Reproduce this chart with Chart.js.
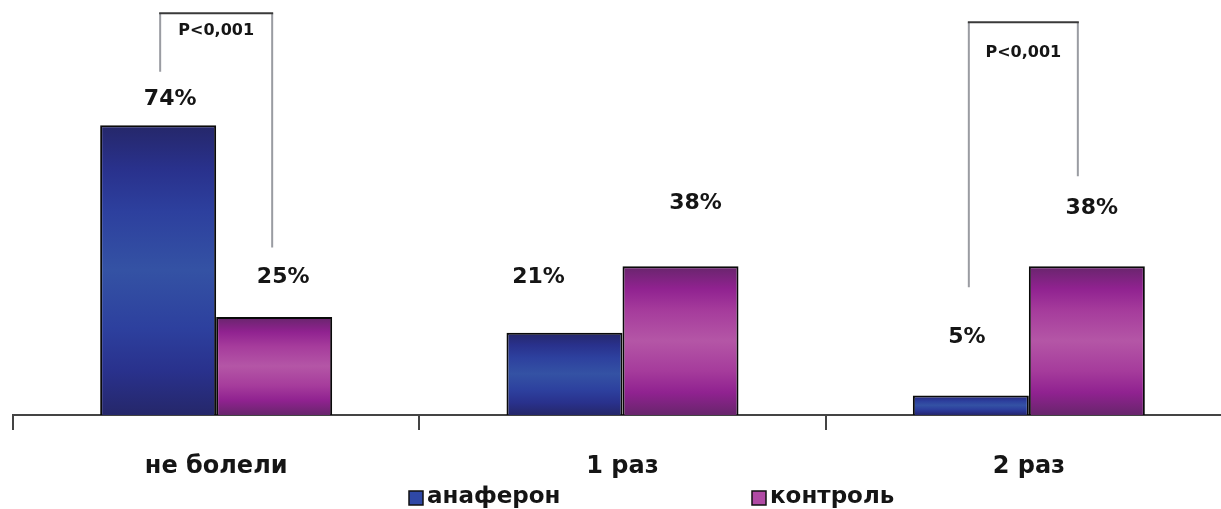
<!DOCTYPE html>
<html>
<head>
<meta charset="utf-8">
<script src="https://cdn.jsdelivr.net/npm/chart.js@4"></script>
<style>
  body { margin: 0; overflow: hidden; background: #fff; }
  #wrap { width: 1232px; height: 509px; }
</style>
</head>
<body>
<div id="wrap"><canvas id="myChart"></canvas></div>
<script>
    let categories = ["не болели", "1 раз", "2 раз"];
    let seriesNames = ["анаферон", "контроль"];
    let anaferonValues = [74, 21, 5];
    let controlValues = [25, 38, 38];
    let pLabel = "P<0,001";

    let fontName = "'DejaVu Sans', sans-serif";

    // gradient stops top -> bottom for each series
    let blueStops = [
      [0, "#25276a"], [0.15, "#29318c"], [0.3, "#2d409e"],
      [0.5, "#3452a4"], [0.7, "#2d409e"], [0.85, "#29318c"], [1, "#25276a"]
    ];
    let pinkStops = [
      [0, "#68256c"], [0.15, "#902290"], [0.3, "#a63c9c"],
      [0.5, "#b456a6"], [0.7, "#a63c9c"], [0.85, "#902290"], [1, "#68256c"]
    ];

    function barGradient(stops, flat) {
      return function (ctx) {
        let chart = ctx.chart;
        let y = chart.scales.y;
        if (!y || ctx.raw === undefined) return flat;
        let top = y.getPixelForValue(ctx.raw);
        let base = y.getPixelForValue(0);
        if (!isFinite(top) || base - top < 1) return flat;
        let g = chart.ctx.createLinearGradient(0, top, 0, base);
        stops.forEach(s => g.addColorStop(s[0], s[1]));
        return g;
      };
    }

    // label offsets (px) from bar centre / bar top, per dataset per bar
    let labelOffsets = [
      [[12, -26], [-26, -56], [-4, -58]],
      [[9, -40], [15, -63], [5, -58]]
    ];

    let extras = {
      id: "extras",
      afterDatasetsDraw(chart) {
        let c = chart.ctx;
        let y = chart.scales.y;
        c.save();

        // value labels
        c.font = "bold 22px " + fontName;
        c.fillStyle = "#151515";
        c.textAlign = "center";
        c.textBaseline = "middle";
        chart.data.datasets.forEach((ds, di) => {
          chart.getDatasetMeta(di).data.forEach((bar, i) => {
            let off = labelOffsets[di][i];
            c.fillText(ds.data[i] + "%", bar.x + off[0], bar.y + off[1]);
          });
        });

        // significance brackets
        let brackets = [
          { group: 0, top: 102.6, leftEnd: 87.7, rightEnd: 42.8, textDy: 18, dx: [2, -2] },
          { group: 2, top: 100.3, leftEnd: 32.6, rightEnd: 61.0, textDy: 31, dx: [-2, -9] }
        ];
        brackets.forEach(b => {
          let x1 = chart.getDatasetMeta(0).data[b.group].x + b.dx[0];
          let x2 = chart.getDatasetMeta(1).data[b.group].x + b.dx[1];
          let yt = y.getPixelForValue(b.top);
          c.lineWidth = 2;
          c.strokeStyle = "#9a9ca2";
          c.beginPath();
          c.moveTo(x1, y.getPixelForValue(b.leftEnd));
          c.lineTo(x1, yt);
          c.moveTo(x2, yt);
          c.lineTo(x2, y.getPixelForValue(b.rightEnd));
          c.stroke();
          c.strokeStyle = "#3a3a3a";
          c.beginPath();
          c.moveTo(x1 - 1, yt);
          c.lineTo(x2 + 1, yt);
          c.stroke();
          c.font = "bold 16px " + fontName;
          c.fillStyle = "#151515";
          c.fillText(pLabel, (x1 + x2) / 2, yt + b.textDy);
        });

        // legend
        let legendItems = [
          { x: 409, color: "#2f48a6" },
          { x: 752, color: "#b04aa4" }
        ];
        c.font = "bold 23px " + fontName;
        c.textAlign = "left";
        legendItems.forEach((it, i) => {
          c.fillStyle = it.color;
          c.fillRect(it.x, 491, 14, 14);
          c.lineWidth = 1.5;
          c.strokeStyle = "#111";
          c.strokeRect(it.x, 491, 14, 14);
          c.fillStyle = "#151515";
          c.fillText(chart.data.datasets[i].label, it.x + 18, 497);
        });
        c.restore();
      }
    };

    new Chart("myChart", {
      type: "bar",
      data: {
        labels: categories,
        datasets: [{
          label: seriesNames[0],
          data: anaferonValues,
          backgroundColor: barGradient(blueStops, "#2d409e"),
          borderColor: "#0a0a0a",
          borderWidth: 2
        }, {
          label: seriesNames[1],
          data: controlValues,
          backgroundColor: barGradient(pinkStops, "#a63c9c"),
          borderColor: "#0a0a0a",
          borderWidth: 2
        }]
      },
      options: {
        responsive: true,
        maintainAspectRatio: false,
        animation: false,
        categoryPercentage: 0.571,
        barPercentage: 1.0,
        layout: { padding: { left: 13, right: 0, top: 0, bottom: 0 } },
        plugins: {
          legend: { display: false },
          tooltip: { enabled: false }
        },
        scales: {
          x: {
            offset: true,
            afterFit(scale) { scale.height = 94; },
            grid: {
              display: true,
              drawOnChartArea: false,
              offset: true,
              tickLength: 15,
              color: "#444",
              lineWidth: 2
            },
            border: { display: true, color: "#444", width: 2 },
            ticks: {
              font: { family: fontName, size: 24, weight: "bold" },
              color: "#151515",
              padding: 22,
              maxRotation: 0,
              autoSkip: false
            }
          },
          y: {
            display: false,
            min: 0,
            max: 106
          }
        }
      },
      plugins: [extras]
    });
</script>
</body>
</html>
